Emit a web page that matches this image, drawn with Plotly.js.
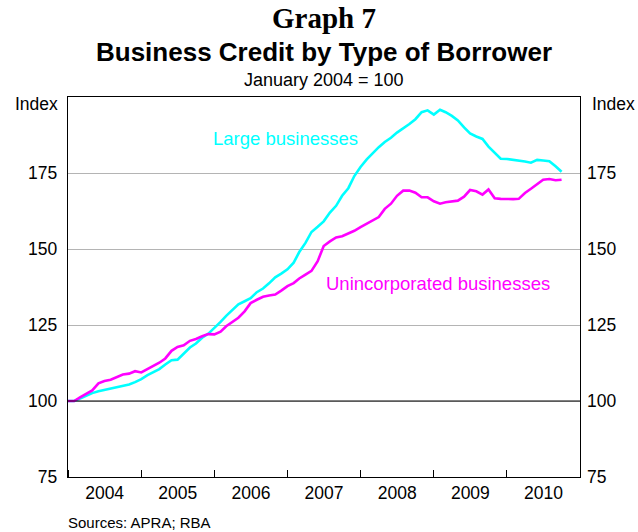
<!DOCTYPE html>
<html>
<head>
<meta charset="utf-8">
<script src="https://cdn.plot.ly/plotly-3.0.1.min.js"></script>
<style>html,body{margin:0;padding:0;background:#fff;}#chart{width:638px;height:532px;}</style>
</head>
<body>
<div id="chart"></div>
<script>
// Monthly observations, January 2004 to October 2010
const startYear = 2004;
const startMonth = 1;
const largeBusinesses = [
  100.0, 100.0, 100.8, 101.8, 102.6, 103.2, 103.6, 104.1, 104.4, 104.9, 105.4, 106.2,
  107.2, 108.5, 109.4, 110.5, 112.0, 113.4, 113.6, 115.5, 117.6, 118.9, 120.8, 122.1,
  124.0, 126.0, 128.0, 130.0, 131.8, 132.8, 133.8, 135.8, 137.0, 138.7, 140.7, 141.9,
  143.3, 145.5, 149.0, 152.0, 155.6, 157.3, 159.1, 162.0, 164.2, 167.5, 170.0, 174.0,
  177.0, 179.5, 181.6, 183.5, 185.2, 186.6, 188.3, 189.6, 191.1, 192.7, 195.0, 195.6,
  194.2, 195.8, 195.0, 193.8, 192.3, 190.0, 188.0, 187.0, 186.2, 183.7, 181.6, 179.7,
  179.6, 179.4, 179.2, 178.8, 178.4, 179.3, 179.1, 178.9, 177.2, 175.4
];
const unincorporated = [
  100.0, 100.0, 101.2, 102.3, 103.5, 105.8, 106.6, 107.0, 108.0, 108.7, 109.0, 109.8,
  109.4, 110.5, 111.5, 112.6, 114.0, 116.5, 117.8, 118.3, 119.8, 120.4, 121.3, 122.0,
  121.9, 122.8, 124.6, 126.0, 127.4, 129.5, 132.2, 133.3, 134.3, 134.7, 135.0, 136.3,
  137.8, 138.8, 140.3, 141.6, 142.8, 146.0, 151.0, 152.5, 153.8, 154.2, 155.0, 156.0,
  157.2, 158.3, 159.2, 160.5, 163.2, 164.9, 167.5, 169.2, 169.2, 168.5, 167.0, 167.0,
  165.7, 164.9, 165.4, 165.6, 165.9, 167.2, 169.4, 169.0, 167.9, 169.6, 166.7, 166.5,
  166.4, 166.4, 166.5, 168.4, 169.8, 171.2, 172.8, 173.0, 172.6, 172.8
];
const yTicks = [75, 100, 125, 150, 175];
const seriesNames = ["Large businesses", "Unincorporated businesses"];

function monthDate(i) {
  const total = (startMonth - 1) + i;
  const y = startYear + Math.floor(total / 12);
  const m = (total % 12) + 1;
  return y + "-" + String(m).padStart(2, "0") + "-01";
}
const dates = largeBusinesses.map((_, i) => monthDate(i));

const font = "Liberation Sans, Arial, sans-serif";
const tickSize = 17.5;

const traces = [
  {x: dates, y: largeBusinesses, type: "scatter", mode: "lines", name: seriesNames[0],
   line: {color: "#00FFFF", width: 2.6}, xaxis: "x", yaxis: "y"},
  {x: dates, y: unincorporated, type: "scatter", mode: "lines", name: seriesNames[1],
   line: {color: "#FF00FF", width: 2.6}, xaxis: "x", yaxis: "y"},
  {x: [dates[0]], y: [null], type: "scatter", mode: "lines", showlegend: false,
   hoverinfo: "skip", xaxis: "x", yaxis: "y2"}
];

const layout = {
  width: 638, height: 532,
  margin: {l: 68, r: 58, t: 97, b: 55},
  paper_bgcolor: "#fff", plot_bgcolor: "#fff",
  showlegend: false,
  font: {family: font, size: tickSize, color: "#000"},
  xaxis: {
    type: "date",
    range: ["2004-01-01", "2011-01-01"],
    tick0: "2004-01-01", dtick: "M12",
    ticklabelmode: "period", tickformat: "%Y",
    ticks: "inside", ticklen: 7, tickcolor: "#000", tickwidth: 1,
    showgrid: false, zeroline: false,
    showline: true, linecolor: "#000", linewidth: 1.2, mirror: true,
    tickfont: {family: font, size: tickSize, color: "#000"}
  },
  yaxis: {
    range: [75, 200], tickvals: yTicks, ticktext: yTicks.map(String),
    showgrid: true, gridcolor: "#b4b4b4", gridwidth: 1,
    zeroline: false, ticks: "", ticklabelstandoff: 6,
    showline: true, linecolor: "#000", linewidth: 1.2, mirror: true,
    tickfont: {family: font, size: tickSize, color: "#000"}
  },
  yaxis2: {
    range: [75, 200], tickvals: yTicks, ticktext: yTicks.map(String),
    overlaying: "y", side: "right", showgrid: false, zeroline: false, ticks: "",
    ticklabelstandoff: 6, showline: false,
    tickfont: {family: font, size: tickSize, color: "#000"}
  },
  shapes: [
    {type: "line", xref: "paper", x0: 0, x1: 1, yref: "y", y0: 100, y1: 100,
     line: {color: "#000", width: 1}}
  ],
  annotations: [
    {text: "<b>Graph 7</b>", xref: "paper", yref: "paper", x: 0.5, y: 1, yshift: 79,
     xanchor: "center", yanchor: "middle", showarrow: false,
     font: {family: "Liberation Serif, Times New Roman, serif", size: 29, color: "#000"}},
    {text: "<b>Business Credit by Type of Borrower</b>", xref: "paper", yref: "paper",
     x: 0.5, y: 1, yshift: 45, xanchor: "center", yanchor: "middle", showarrow: false,
     font: {family: font, size: 26, color: "#000"}},
    {text: "January 2004 = 100", xref: "paper", yref: "paper",
     x: 0.5, y: 1, yshift: 17, xanchor: "center", yanchor: "middle", showarrow: false,
     font: {family: font, size: 18, color: "#000"}},
    {text: "Index", xref: "paper", yref: "paper", x: 0, xshift: -8, y: 1, yshift: -7,
     xanchor: "right", yanchor: "middle", showarrow: false,
     font: {family: font, size: tickSize, color: "#000"}},
    {text: "Index", xref: "paper", yref: "paper", x: 1, xshift: 10, y: 1, yshift: -7,
     xanchor: "left", yanchor: "middle", showarrow: false,
     font: {family: font, size: tickSize, color: "#000"}},
    {text: seriesNames[0], xref: "x", yref: "y", x: "2006-12-20", y: 186.5,
     xanchor: "center", yanchor: "middle", showarrow: false,
     font: {family: font, size: 18.5, color: "#00FFFF"}},
    {text: seriesNames[1], xref: "x", yref: "y", x: "2009-01-22", y: 138.5,
     xanchor: "center", yanchor: "middle", showarrow: false,
     font: {family: font, size: 18.5, color: "#FF00FF"}},
    {text: "Sources: APRA; RBA", xref: "paper", yref: "paper", x: 0, xshift: -2, y: 0, yshift: -45,
     xanchor: "left", yanchor: "middle", showarrow: false,
     font: {family: font, size: 15, color: "#000"}}
  ]
};

Plotly.newPlot("chart", traces, layout, {displayModeBar: false, staticPlot: true});
</script>
</body>
</html>
